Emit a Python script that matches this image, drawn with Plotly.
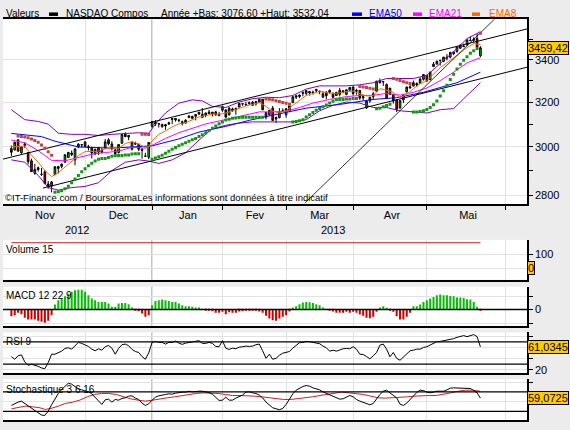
import math
import plotly.graph_objects as go

# ---- daily OHLC (trading-day index 0 = 31 Oct 2012 ... 140 = 23 May 2013)
opens = [2993, 2987, 3031, 2975, 3007, 2976, 2941, 2888, 2912, 2885,
         2895, 2845, 2836, 2883, 2909, 2918, 2935, 2955, 2974, 2945,
         3000, 3009, 3022, 3002, 2998, 2970, 2998, 2976, 2995, 3031,
         3013, 2987, 2976, 3016, 3056, 3043, 2990, 3016, 3012, 2990,
         2961, 2956, 3091, 3108, 3100, 3089, 3098, 3100, 3125, 3118,
         3116, 3102, 3105, 3130, 3126, 3135, 3145, 3144, 3140, 3147,
         3146, 3155, 3138, 3163, 3164, 3141, 3160, 3171, 3177, 3191,
         3189, 3193, 3185, 3202, 3199, 3213, 3152, 3143, 3172, 3123,
         3129, 3157, 3142, 3159, 3197, 3229, 3225, 3240, 3240, 3249,
         3242, 3252, 3251, 3222, 3244, 3244, 3238, 3230, 3254, 3245,
         3235, 3255, 3270, 3250, 3254, 3219, 3173, 3205, 3225, 3250,
         3290, 3294, 3282, 3235, 3235, 3209, 3172, 3210, 3247, 3265,
         3274, 3286, 3287, 3306, 3325, 3304, 3367, 3379, 3398, 3393,
         3413, 3413, 3430, 3440, 3457, 3468, 3474, 3495, 3497, 3505,
         3420]
highs = [3006, 3023, 3033, 3003, 3022, 2977, 2950, 2928, 2917, 2911,
         2903, 2857, 2857, 2917, 2920, 2930, 2967, 2977, 2985, 2994,
         3016, 3012, 3026, 3009, 3001, 2993, 3000, 2995, 3035, 3038,
         3025, 2993, 3011, 3055, 3064, 3051, 3022, 3023, 3014, 2995,
         2975, 3020, 3113, 3118, 3105, 3102, 3099, 3111, 3126, 3126,
         3124, 3116, 3122, 3141, 3137, 3145, 3154, 3172, 3152, 3164,
         3155, 3160, 3155, 3183, 3167, 3177, 3174, 3174, 3196, 3194,
         3200, 3203, 3205, 3206, 3214, 3214, 3154, 3162, 3182, 3134,
         3172, 3171, 3170, 3182, 3227, 3233, 3235, 3249, 3253, 3251,
         3253, 3260, 3251, 3250, 3251, 3258, 3245, 3246, 3265, 3253,
         3258, 3270, 3272, 3261, 3256, 3228, 3207, 3222, 3246, 3299,
         3310, 3297, 3286, 3265, 3236, 3212, 3211, 3237, 3272, 3282,
         3300, 3292, 3315, 3329, 3326, 3342, 3389, 3396, 3398, 3413,
         3428, 3437, 3440, 3465, 3478, 3480, 3499, 3515, 3512, 3532,
         3467]
lows = [2961, 2985, 2981, 2971, 2996, 2926, 2894, 2883, 2896, 2878,
        2844, 2826, 2811, 2883, 2888, 2910, 2935, 2953, 2961, 2922,
        2995, 2998, 3000, 2985, 2951, 2966, 2966, 2975, 2995, 3007,
        2985, 2964, 2972, 3014, 3044, 3029, 2985, 3010, 2982, 2950,
        2959, 2948, 3084, 3092, 3085, 3084, 3075, 3097, 3100, 3111,
        3108, 3094, 3102, 3126, 3122, 3117, 3140, 3130, 3131, 3146,
        3134, 3137, 3136, 3155, 3130, 3140, 3156, 3142, 3176, 3183,
        3185, 3187, 3184, 3183, 3195, 3164, 3121, 3137, 3115, 3105,
        3126, 3156, 3129, 3154, 3197, 3214, 3218, 3226, 3231, 3230,
        3234, 3246, 3236, 3220, 3212, 3239, 3215, 3228, 3226, 3241,
        3231, 3254, 3229, 3234, 3210, 3207, 3169, 3196, 3210, 3250,
        3286, 3275, 3216, 3235, 3193, 3154, 3172, 3195, 3244, 3262,
        3273, 3271, 3286, 3300, 3293, 3302, 3366, 3378, 3372, 3388,
        3397, 3407, 3423, 3435, 3453, 3464, 3469, 3493, 3488, 3452,
        3413]
closes = [2977.2, 3020.1, 2982.1, 2999.7, 3011.9, 2937.3, 2895.6, 2904.9, 2904.3, 2883.9,
          2846.8, 2836.9, 2853.1, 2916.1, 2916.7, 2926.6, 2966.9, 2976.8, 2967.8, 2991.8,
          3012.0, 3010.2, 3002.2, 2996.7, 2973.7, 2989.3, 2978.0, 2987.0, 3022.3, 3013.8,
          2992.2, 2971.3, 3010.6, 3054.5, 3044.4, 3050.4, 3021.0, 3012.6, 2990.2, 2985.9,
          2960.3, 3019.5, 3112.3, 3100.6, 3101.7, 3098.8, 3091.8, 3105.8, 3121.8, 3125.6,
          3117.5, 3110.8, 3117.5, 3136.0, 3134.7, 3143.2, 3153.7, 3130.4, 3149.7, 3154.3,
          3153.7, 3142.3, 3142.1, 3179.1, 3131.2, 3171.6, 3168.5, 3165.1, 3193.9, 3192.0,
          3186.5, 3196.9, 3198.7, 3192.0, 3213.6, 3164.4, 3131.5, 3161.8, 3116.3, 3129.7,
          3153.7, 3160.2, 3169.7, 3182.0, 3224.1, 3222.4, 3232.1, 3244.4, 3252.9, 3242.3,
          3245.1, 3258.9, 3249.1, 3237.6, 3229.1, 3254.2, 3222.6, 3245.0, 3235.3, 3252.5,
          3256.5, 3267.5, 3239.2, 3253.9, 3218.6, 3225.0, 3203.9, 3222.3, 3237.9, 3297.3,
          3300.2, 3295.0, 3216.5, 3264.6, 3204.7, 3166.4, 3206.1, 3233.6, 3269.3, 3269.7,
          3290.0, 3279.3, 3307.0, 3328.8, 3299.1, 3340.6, 3378.6, 3393.0, 3396.6, 3413.3,
          3409.2, 3436.6, 3438.8, 3462.6, 3471.6, 3465.2, 3499.0, 3496.2, 3502.1, 3463.3,
          3459.4]
days = list(range(len(closes)))

# ---- moving averages and bands (index, value)
ema50_x = [0, 9, 13, 20, 30, 42, 50, 56, 64, 71, 78, 88, 98, 108, 115, 123, 133, 140]
ema50_y = [3059, 3045, 3025, 3000, 2995, 3005, 3035, 3065, 3090, 3117, 3140, 3172, 3189, 3212, 3220, 3245, 3290, 3340]
ema21_x = [0, 4, 8, 12, 16, 20, 24, 28, 32, 36, 40, 42, 46, 50, 54, 58, 62, 66, 70, 74, 78, 82, 86,
           90, 95, 100, 104, 108, 112, 116, 120, 124, 128, 132, 136, 140]
ema21_y = [3030, 3018, 2984, 2943, 2941, 2956, 2969, 2976, 2982, 2999, 2995, 3007, 3037, 3062, 3083,
           3101, 3114, 3128, 3140, 3155, 3155, 3158, 3175, 3195, 3212, 3225, 3230, 3231, 3240, 3232,
           3245, 3265, 3300, 3340, 3385, 3410]
ema8_x = [0, 2, 4, 6, 8, 10, 12, 14, 16, 18, 20, 22, 24, 26, 28, 30, 32, 34, 36, 38, 40, 41, 42, 44,
          46, 48, 50, 52, 54, 56, 58, 60, 62, 64, 66, 68, 70, 72, 74, 76, 78, 80, 82, 84, 86, 88,
          90, 92, 94, 96, 98, 100, 102, 104, 106, 108, 110, 112, 114, 116, 118, 120, 122, 124,
          126, 128, 130, 132, 134, 136, 138, 140]
ema8_y = [3000, 3002, 3004, 2965, 2935, 2900, 2875, 2891, 2914, 2937, 2963, 2980, 2982, 2982, 2992,
          2996, 2994, 3015, 3023, 3013, 2997, 3002, 3026, 3055, 3070, 3088, 3101, 3107, 3119, 3132,
          3138, 3145, 3145, 3150, 3160, 3172, 3182, 3190, 3198, 3180, 3158, 3150, 3160, 3185, 3208,
          3230, 3240, 3248, 3244, 3240, 3242, 3248, 3250, 3240, 3228, 3230, 3262, 3255, 3245, 3220,
          3235, 3262, 3285, 3300, 3330, 3362, 3385, 3410, 3435, 3460, 3480, 3475]
bb_up_x = [0, 4, 8, 11, 14, 18, 22, 26, 30, 34, 38, 41, 43, 46, 50, 54, 57, 60, 64, 68, 72, 76, 80,
           84, 88, 92, 96, 100, 104, 108, 112, 116, 120, 124, 128, 132, 136, 140]
bb_up_y = [3165, 3120, 3112, 3100, 3060, 3055, 3055, 3050, 3055, 3060, 3062, 3060, 3100, 3150, 3195,
           3210, 3205, 3180, 3175, 3200, 3215, 3222, 3220, 3230, 3260, 3275, 3275, 3275, 3280, 3290,
           3310, 3310, 3310, 3325, 3380, 3440, 3505, 3540]
bb_lo_x = [0, 4, 8, 11, 14, 18, 22, 26, 30, 34, 38, 41, 44, 48, 52, 56, 60, 64, 68, 72, 76, 80, 84,
           88, 92, 96, 100, 104, 108, 112, 116, 120, 124, 128, 132, 136, 140]
bb_lo_y = [2945, 2935, 2880, 2830, 2820, 2830, 2835, 2850, 2900, 2935, 2945, 2940, 2930, 2945, 2975,
           3030, 3080, 3095, 3105, 3110, 3110, 3110, 3110, 3120, 3160, 3185, 3200, 3195, 3175, 3175,
           3160, 3155, 3150, 3165, 3170, 3230, 3290]

# ---- parabolic SAR
sar_up_x = list(range(13, 39)) + list(range(42, 76)) + list(range(84, 104)) + list(range(109, 114)) + list(range(120, 140))
sar_up_y = [2811, 2813, 2817, 2825, 2836, 2850, 2865, 2880, 2895, 2908, 2920, 2931, 2940, 2948, 2951,
            2951, 2955, 2960, 2964, 2964, 2964, 2966, 2966, 2970, 2971, 2971,
            2948, 2953, 2958, 2965, 2973, 2982, 2990, 2998, 3005, 3012, 3018, 3025, 3031, 3037, 3045,
            3053, 3062, 3072, 3082, 3092, 3102, 3110, 3118, 3122, 3126, 3128, 3130, 3131, 3131, 3131,
            3131, 3131, 3131, 3131,
            3110, 3112, 3115, 3120, 3132, 3142, 3152, 3162, 3170, 3178, 3186, 3195, 3203, 3210, 3212,
            3212, 3214, 3214, 3216, 3216,
            3169, 3172, 3178, 3184, 3190,
            3154, 3155, 3157, 3160, 3166, 3175, 3188, 3205, 3228, 3252, 3278, 3305, 3330, 3355, 3378,
            3398, 3415, 3432, 3445, 3455]
sar_dn_x = list(range(2, 13)) + [39, 40, 41] + list(range(76, 84)) + list(range(104, 109)) + list(range(114, 120)) + [140]
sar_dn_y = [3048, 3046, 3043, 3040, 3035, 3028, 3020, 3008, 2995, 2980, 2965,
            3055, 3055, 3054,
            3214, 3213, 3210, 3206, 3202, 3198, 3194, 3190,
            3272, 3270, 3268, 3264, 3260,
            3310, 3306, 3300, 3295, 3290, 3286,
            3532]

# ---- trend lines (index, price)
chan_up_x, chan_up_y = [-2.5, 153.9], [2948, 3554]
chan_lo_x, chan_lo_y = [9.4, 153.9], [2828, 3364]
steep_x, steep_y = [87.6, 144.3], [2768, 3606]

# ---- lower panels
vol_ma_x, vol_ma = [0, 140], [180, 180]
macd_hist = [-6.7, -5.7, -3.3, -4.7, -8.3, -10, -10, -10, -11.3, -12.3, -13.3, -11.3, -5.7,
             5, 9.3, 11, 13.3, 16, 18, 19.3, 20, 20, 18, 14.3, 11, 9.3, 7.7, 7.7, 7.7, 6, 2.7, 2.7,
             6, 6.7, 6.7, 5.3, 2,
             -0.7, -1.7, -4, -7.3, -5.7,
             4.3, 8.7, 9.3, 10, 9.3, 8.7, 7.7, 7.7, 6, 4.3, 3.3, 3.3, 2.7, 2, 2,
             0.3, -0.3,
             -1.3, -1.7, -3.3, -3.3, -2.3, -4.7, -2.7, -3.3, -3.3, -2, -1.7, -1.3, -1.3, -0.3, -1.3,
             -2, -3.3, -6.3, -9, -10.7, -11.3, -9, -7.3, -5.7, -2,
             2, 3.3, 5.3, 7, 7.7, 7.3, 6.7, 5.3, 4.3, 2,
             0.3, -0.3,
             -2, -3.3, -3.3, -3.3, -2.3, -3.3, -2.3, -3.3, -5, -6.3, -8.3, -8.7, -7.3, -2.3,
             2, 3.3, 1.7,
             -1.3, -2.3, -6.7, -10, -10, -7.3, -3.3,
             3.3, 3.3, 5, 7.7, 9.3, 11, 12.7, 14.3, 15, 14.3, 14.3, 13.7, 13.3, 12, 12, 11.7, 10.3,
             10, 7.7, 2.7,
             -1.3]
rsi = [43.6, 38.7, 44.9, 46.7, 34, 27.8, 29.7, 28.5, 26, 23,
       21.8, 32.7, 47.8, 47.8, 50.9, 53.3, 58.2, 59.4, 56.9, 62.4,
       69.1, 67.3, 64.9, 61.8, 56.9, 54, 57.6, 55.1, 61.3, 63.6,
       58.7, 47.8, 58.2, 64.9, 66, 63.1, 56.4, 52.7, 50.9, 43.6,
       38.7, 50.3, 69.1, 70.9, 69.1, 69.1, 66, 69.1, 69.1, 71.5,
       67.8, 65.5, 67.8, 69.1, 69.6, 70.4, 72.2, 67.3, 67.3, 69.1,
       67.3, 61.8, 61.3, 72.2, 58.7, 56.4, 58.7, 57.6, 60.5, 61.3,
       62.4, 61.8, 62.4, 64.9, 66, 54, 40.5, 47.8, 38.7, 40.5,
       46, 49.6, 50.9, 52.7, 58.7, 64.2, 68.5, 69.1, 70.9, 70.4,
       69.1, 68.5, 66.7, 62.4, 59.4, 53.3, 55.1, 53.3, 55.8, 57.6,
       58.2, 57.6, 61.3, 56.9, 47.8, 47.3, 43.6, 39.5, 44.9, 50.9,
       64.2, 66, 56.9, 43.1, 50.9, 40.5, 36.9, 43.1, 49.1, 54,
       55.1, 56.9, 56.9, 60, 61.3, 64.2, 67.8, 70.4, 70.9, 72.2,
       73.3, 74, 75.8, 78.2, 79.4, 81.3, 79.4, 81.3, 83.1, 79.4,
       61.0]
stoch_k = [40.2, 45.3, 48.7, 51.3, 45.3, 38.4, 34.2, 28.2, 21.4, 15.4,
           14.5, 25.6, 41.9, 57.3, 70.9, 81.2, 89.8, 97.4, 94.9, 88,
           82.9, 80.3, 78.6, 75.2, 70.1, 60.7, 50.4, 42.7, 54.7, 56.4,
           48.7, 55.6, 53.8, 58.1, 59.8, 64.1, 65, 59, 55.6, 46.1,
           40.2, 44.4, 53.8, 61.5, 65, 67.5, 68.4, 70.1, 69.2, 71.8,
           73.5, 74.4, 74.4, 76.9, 75.2, 76.9, 76.9, 76.9, 76.1, 73.5,
           69.2, 60.7, 53, 53.8, 61.5, 53.8, 53.8, 59, 62.4, 66.7,
           74.4, 75.2, 72.6, 70.9, 66.7, 59.8, 48.7, 40.2, 34.2, 31.6,
           29.1, 32.5, 42.7, 56.4, 70.1, 79.5, 84.6, 88.9, 91.5, 89.8,
           85.5, 82.9, 80.3, 75.2, 71.8, 68.4, 63.2, 60.7, 56.4, 57.3,
           62.4, 65.8, 62.4, 55.6, 51.3, 47.9, 45.3, 41.9, 45.3, 57.3,
           68.4, 76.9, 79.5, 72.6, 66.7, 59.8, 43.6, 40.2, 46.1, 55.6,
           65.8, 73.5, 79.5, 78.6, 74.4, 72.6, 74.4, 76.9, 76.9, 76.9,
           80.3, 84.6, 85.5, 85.5, 85.5, 84.6, 83.8, 83.8, 78.6, 72.6,
           59.1]
stoch_d_x = [0, 2, 4.2, 6.3, 8.5, 10.1, 11.8, 14, 16.1, 18.3, 20.4, 22.6, 24.8, 26.9, 29.1, 31.3,
             33.5, 35.6, 37.8, 40, 42.2, 44.3, 46.5, 48.7, 50.8, 53, 55.2, 57.4, 59.5, 61.7, 63.9,
             66, 68.2, 70.4, 72.5, 74.7, 76.9, 79.1, 81.2, 83.4, 85.6, 87.7, 89.9, 92.1, 94.3, 96.4,
             98.6, 100.8, 103, 105.1, 107.3, 109.5, 111.6, 113.8, 116, 118.2, 120.3, 122.5, 124.7,
             126.8, 129, 131.2, 133.4, 135.5, 137.7, 139.9]
stoch_d = [31.6, 34.2, 38.4, 36.7, 34.2, 29.9, 32.5, 38.4, 45.3, 48.7, 53.8, 62.4, 68.4, 71, 71,
           68.4, 62.4, 57.3, 53.8, 51.3, 53.8, 57.3, 59.8, 62.4, 65.8, 68.4, 71, 72.6, 72.6, 71,
           68.4, 65.8, 65.8, 65.8, 64.1, 62.4, 59.8, 57.3, 55.6, 55.6, 57.3, 59.8, 62.4, 65.8, 68.4,
           72.6, 74.4, 72.6, 71, 68.4, 64.1, 59.8, 59, 59.8, 59.8, 62.4, 64.1, 65.8, 65.8, 65.8,
           68.4, 72.6, 76.9, 79.5, 79.5, 76.9]

# ---- axis labels
month_starts = [22, 42, 63, 82, 102, 124, 147.6]
month_mid = [10, 32, 52.7, 72.7, 92, 113.6, 136.3]
month_names = ["Nov", "Dec", "Jan", "Fev", "Mar", "Avr", "Mai"]
years = [(19.7, "2012"), (96, "2013")]

W, H = 570, 430
FONT = "Liberation Sans, Arial, sans-serif"
X0, X1 = 3 / W, 527 / W


def dom(top, bottom):
    return [1 - bottom / H, 1 - top / H]


fig = go.Figure()

line_specs = [
    (bb_up_x, bb_up_y, "#8000c0"), (bb_lo_x, bb_lo_y, "#8000c0"),
    (ema50_x, ema50_y, "#0000ff"), (ema21_x, ema21_y, "#ff00ff"), (ema8_x, ema8_y, "#ff6600"),
]
for xs, ys, col in line_specs:
    fig.add_trace(go.Scatter(x=xs, y=ys, mode="lines", line=dict(color=col, width=1),
                             xaxis="x", yaxis="y", hoverinfo="skip"))
for xs, ys, w in [(chan_up_x, chan_up_y, 1), (chan_lo_x, chan_lo_y, 1), (steep_x, steep_y, 0.8)]:
    fig.add_trace(go.Scatter(x=xs, y=ys, mode="lines", line=dict(color="black", width=w),
                             xaxis="x", yaxis="y", hoverinfo="skip"))

fig.add_trace(go.Candlestick(
    x=days, open=opens, high=highs, low=lows, close=closes,
    increasing=dict(fillcolor="#00c800", line=dict(color="black", width=1)),
    decreasing=dict(fillcolor="#c80000", line=dict(color="black", width=1)),
    whiskerwidth=0, xaxis="x", yaxis="y",
))
fig.add_trace(go.Scatter(x=sar_up_x, y=sar_up_y, mode="markers", xaxis="x", yaxis="y",
                         marker=dict(symbol="square", size=3, color="#149614", line=dict(width=0))))
fig.add_trace(go.Scatter(x=sar_dn_x, y=sar_dn_y, mode="markers", xaxis="x", yaxis="y",
                         marker=dict(symbol="square", size=3, color="#c84040", line=dict(width=0))))

# volume panel
fig.add_trace(go.Scatter(x=vol_ma_x, y=vol_ma, mode="lines", line=dict(color="#cc2020", width=1),
                         xaxis="x2", yaxis="y2"))
# MACD histogram
fig.add_trace(go.Bar(x=days, y=macd_hist, width=0.6, xaxis="x3", yaxis="y3",
                     marker=dict(color=["#00c000" if v >= 0 else "#cc0000" for v in macd_hist],
                                 line=dict(width=0))))
# RSI
fig.add_trace(go.Scatter(x=days, y=rsi, mode="lines", line=dict(color="black", width=1),
                         xaxis="x4", yaxis="y4"))
# Stochastic
fig.add_trace(go.Scatter(x=stoch_d_x, y=stoch_d, mode="lines", line=dict(color="#cc2020", width=1),
                         xaxis="x5", yaxis="y5"))
fig.add_trace(go.Scatter(x=days, y=stoch_k, mode="lines", line=dict(color="black", width=1),
                         xaxis="x5", yaxis="y5"))

grid = "#e2e2e2"
xbase = dict(range=[-2.5, 153.9], domain=[X0, X1], showgrid=False, zeroline=False,
             showline=True, linecolor="black", linewidth=1.5, rangeslider=dict(visible=False),
             minor=dict(tickmode="array", tickvals=month_starts, showgrid=True, gridcolor=grid,
                        gridwidth=1))
axtick = dict(size=11, family=FONT, color="black")

layout = dict(
    width=W, height=H, margin=dict(l=0, r=0, t=0, b=0),
    paper_bgcolor="#ececec", plot_bgcolor="white", showlegend=False, font=dict(family=FONT),
    xaxis=dict(xbase, anchor="y", mirror=True, tickmode="array", tickvals=month_mid,
               ticktext=month_names, ticks="", tickfont=axtick,
               minor=dict(tickmode="array", tickvals=month_starts, showgrid=True, gridcolor=grid,
                          ticks="outside", ticklen=4, tickcolor="black")),
    yaxis=dict(domain=dom(19.5, 205), type="log", range=[math.log10(2764), math.log10(3603)],
               side="right", anchor="x", tickmode="array", tickvals=[2800, 3000, 3200, 3400],
               ticks="outside", ticklen=4, tickcolor="black", tickfont=axtick, showgrid=True,
               gridcolor=grid, showline=True, linecolor="black", linewidth=1.5, zeroline=False,
               minor=dict(tickmode="array", tickvals=[2900, 3100, 3300, 3500], ticks="outside",
                          ticklen=4, tickcolor="black", showgrid=False)),
)
panels = [
    (2, dom(241, 281), [-80, 200], [100, 0], ["100", ""]),
    (3, dom(288, 328), [-17, 23], [13, 0, -14], ["", "0", ""]),
    (4, dom(334, 375), [13.5, 87], [80, 60, 40, 20], ["", "", "", "20"]),
    (5, dom(381, 422), [2.6, 107.7], [100, 50], ["", ""]),
]
for k, d, rng, tv, tt in panels:
    layout[f"xaxis{k}"] = dict(xbase, anchor=f"y{k}", matches="x", showticklabels=False, ticks="")
    layout[f"yaxis{k}"] = dict(domain=d, range=rng, side="right", anchor=f"x{k}", tickmode="array",
                               tickvals=tv, ticktext=tt, ticks="outside", ticklen=4,
                               tickcolor="black", tickfont=axtick, showgrid=True, gridcolor=grid,
                               showline=True, linecolor="black", linewidth=1.5, zeroline=False)
fig.update_layout(**layout)

# darker year separator and reference lines
for k in ["", "2", "3", "4", "5"]:
    fig.add_shape(type="line", xref=f"x{k}", yref=f"y{k} domain", x0=42, x1=42, y0=0, y1=1,
                  line=dict(color="#a8a8a8", width=1.5), layer="below")
for yref, val, w in [("y3", 0, 1.5), ("y4", 70, 1.2), ("y4", 30, 1.2), ("y5", 75, 1.2), ("y5", 25, 1.2)]:
    fig.add_shape(type="line", xref="paper", yref=yref, x0=X0, x1=X1, y0=val, y1=val,
                  line=dict(color="black", width=w))


def ann(text, x, y, color="black", size=10, xref="paper", yref="paper", **kw):
    kw.setdefault("yanchor", "middle")
    fig.add_annotation(text=text, x=x, y=y, xref=xref, yref=yref, showarrow=False,
                       font=dict(size=size, color=color, family=FONT), **kw)


# header
hy = 1 - 13.5 / H
ann("Valeurs", 4 / W, hy, xanchor="left")
ann("NASDAQ Compos", 64 / W, hy, xanchor="left")
ann("Année +Bas: 3076,60 +Haut: 3532,04", 159 / W, hy, xanchor="left")
ann("EMA50", 367 / W, hy, color="#0000ff", xanchor="left")
ann("EMA21", 427 / W, hy, color="#ff00ff", xanchor="left")
ann("EMA8", 487 / W, hy, color="#ff6600", xanchor="left")
for x0, x1, col in [(49, 58, "black"), (352, 362, "#0000ff"), (413, 422, "#ff00ff"), (472, 480, "#ff6600")]:
    fig.add_shape(type="rect", xref="paper", yref="paper", x0=x0 / W, x1=x1 / W,
                  y0=1 - 16 / H, y1=1 - 12.5 / H, fillcolor=col, line=dict(width=0))

for xv, txt in years:
    ann(txt, xv, 1 - 231 / H, xref="x", size=11)
ann("©IT-Finance.com / BoursoramaLes informations sont données à titre indicatif",
    3 / W, 1 - 198 / H, size=9.5, xanchor="left")
ann("Volume 15", 4 / W, 1 - 251 / H, xanchor="left")
ann("MACD 12 22 9", 4 / W, 1 - 297 / H, xanchor="left")
ann("RSI 9", 4 / W, 1 - 343 / H, xanchor="left")
ann("Stochastique 3 6 16", 4 / W, 1 - 391 / H, xanchor="left")

box = dict(bgcolor="#ffcc00", bordercolor="black", borderwidth=1, borderpad=0, xanchor="left")
ann("3459,42", X1, math.log10(closes[-1]), size=11, yref="y", **box)
ann("0", X1, 0, size=11, yref="y2", **box)
ann("61,0345", X1, rsi[-1], size=11, yref="y4", **box)
ann("59,0725", X1, stoch_k[-1], size=11, yref="y5", **box)

fig.write_html("out.html", config={"displayModeBar": False},
               post_script="document.body.style.margin='0px';document.body.style.overflow='hidden';")
